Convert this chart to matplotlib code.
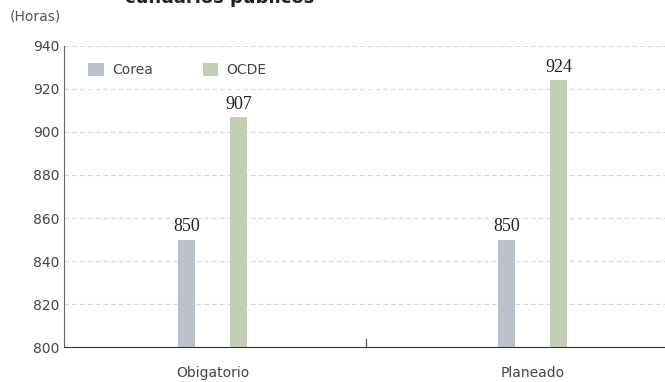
import matplotlib.pyplot as plt
import numpy as np

categorias = ["Obigatorio", "Planeado"]
corea = [850, 850]
ocde = [907, 924]
series = ["Corea", "OCDE"]
yticks = np.arange(800, 941, 20)

fig = plt.figure(figsize=(6.65, 3.82), dpi=100)
ax = fig.add_axes([0.0962, 0.0916, 0.9038, 0.788])

x = np.arange(len(categorias))
w = 0.053
off = 0.081
b1 = ax.bar(x - off, np.array(corea) - 800, w, bottom=800, color="#b9c2cc", label=series[0], zorder=3)
b2 = ax.bar(x + off, np.array(ocde) - 800, w, bottom=800, color="#c1cfb7", label=series[1], zorder=3)

for bars, vals in [(b1, corea), (b2, ocde)]:
    for r, v in zip(bars, vals):
        ax.text(r.get_x() + r.get_width() / 2, v + 2, str(v), ha="center", va="bottom",
                family="Liberation Serif", fontsize=13, color="#222222")

ax.set_ylim(800, 940)
ax.set_xlim(-0.464, 1.414)
ax.set_yticks(yticks)
ax.set_xticks(x)
ax.set_xticklabels(categorias)
ax.tick_params(axis="both", length=0, labelsize=10, labelcolor="#444444")
ax.tick_params(axis="x", pad=14)
ax.grid(axis="y", linestyle=(0, (4, 3)), color="#d9d9d9", linewidth=0.8, zorder=0)
for s in ["top", "right"]:
    ax.spines[s].set_visible(False)
ax.spines["left"].set_color("#666666")
ax.spines["bottom"].set_color("#333333")
ax.spines["bottom"].set_zorder(4)

# separador entre categorias
ax.plot([0.48, 0.48], [800, 803.5], color="#666666", linewidth=1, zorder=4, clip_on=False)

ax.legend(loc="upper left", ncol=2, frameon=False, fontsize=10, handlelength=1.1, handleheight=1.1,
          columnspacing=3.6, handletextpad=0.6, bbox_to_anchor=(0.02, 0.985), labelcolor="#444444")

fig.text(10 / 665, 1 - 17 / 382, "(Horas)", fontsize=10, color="#555555", va="center")
fig.text(125 / 665, 1 - 3 / 382, "cundarios públicos", fontsize=13, fontweight="bold",
         color="#222222", va="baseline")

fig.savefig("out.png", dpi=100)
